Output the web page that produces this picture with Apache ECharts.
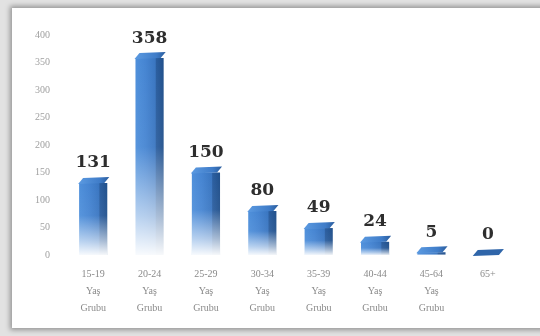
<!DOCTYPE html>
<html>
<head>
<meta charset="utf-8">
<script src="https://cdn.jsdelivr.net/npm/echarts@6/dist/echarts.min.js"></script>
<style>
  html, body { margin: 0; padding: 0; background: #e4e4e4; }
  #frame { position: absolute; left: 0; top: 0; width: 540px; height: 336px; background: #e2e2e2; overflow: hidden; }
  #panel { position: absolute; left: 12px; top: 8px; width: 540px; height: 320px; background: #ffffff;
           box-shadow: 0 0 5px 2px rgba(0,0,0,0.35); }
  #chart { position: absolute; left: 0; top: 0; width: 540px; height: 336px; }
</style>
</head>
<body>
<div id="frame"><div id="panel"></div></div>
<div id="chart"></div>
<script>
const ageGroups = ['15-19', '20-24', '25-29', '30-34', '35-39', '40-44', '45-64', '65+'];
const groupSuffix = ['Yaş\nGrubu', 'Yaş\nGrubu', 'Yaş\nGrubu', 'Yaş\nGrubu', 'Yaş\nGrubu', 'Yaş\nGrubu', 'Yaş\nGrubu', ''];
const counts = [131, 358, 150, 80, 49, 24, 5, 0];
const yTicks = { min: 0, max: 400, interval: 50 };

const categories = ageGroups.map((g, i) => groupSuffix[i] ? g + '\n' + groupSuffix[i] : g);

const chart = echarts.init(document.getElementById('chart'), null, { renderer: 'canvas' });

function renderBar(params, api) {
  const idx = api.value(0);
  const val = api.value(1);
  const top = api.coord([idx, val]);
  const base = api.coord([idx, 0]);
  const band = api.size([1, 0])[0];
  const w = band * 0.5;
  const L = top[0] - w / 2;
  const R = top[0] + w / 2;
  const Y = top[1];
  const h = base[1] - Y;
  const children = [];
  if (h > 0.5) {
    children.push({
      type: 'rect',
      shape: { x: L, y: Y, width: w, height: h },
      style: {
        fill: new echarts.graphic.LinearGradient(0, 0, 1, 0, [
          { offset: 0, color: '#4f90db' },
          { offset: 0.35, color: '#4685d2' },
          { offset: 0.7, color: '#3a76c1' },
          { offset: 0.74, color: '#2b5e9f' },
          { offset: 1, color: '#21508b' }
        ])
      }
    });
    children.push({
      type: 'rect',
      shape: { x: L - 0.5, y: Y, width: w + 1, height: h + 0.5 },
      style: {
        fill: new echarts.graphic.LinearGradient(0, 0, 0, 1, [
          { offset: 0, color: 'rgba(255,255,255,0)' },
          { offset: 0.45, color: 'rgba(255,255,255,0.05)' },
          { offset: 0.8, color: 'rgba(255,255,255,0.6)' },
          { offset: 1, color: 'rgba(255,255,255,0.97)' }
        ])
      }
    });
  }
  children.push({
    type: 'polygon',
    shape: { points: [[L - 1, Y + 1], [L + 4, Y - 5], [R + 2, Y - 6], [R - 3, Y]] },
    style: {
      fill: h > 0.5
        ? new echarts.graphic.LinearGradient(0, 0, 1, 0, [
            { offset: 0, color: '#5c9be2' },
            { offset: 0.7, color: '#3f7cc8' },
            { offset: 1, color: '#2a5c9c' }
          ])
        : '#2f65a9'
    }
  });
  children.push({
    type: 'text',
    style: {
      text: String(val),
      x: top[0],
      y: Y - 20,
      align: 'center',
      verticalAlign: 'middle',
      font: 'bold 17px "DejaVu Serif"',
      fill: '#2e2e2e'
    }
  });
  return { type: 'group', children: children };
}

chart.setOption({
  animation: false,
  grid: { left: 65, right: 24, top: 35, bottom: 81 },
  xAxis: {
    type: 'category',
    data: categories,
    axisLine: { show: false },
    axisTick: { show: false },
    axisLabel: {
      interval: 0,
      margin: 11,
      color: '#8a8a8a',
      fontFamily: 'Liberation Serif',
      fontSize: 10,
      lineHeight: 17
    }
  },
  yAxis: {
    type: 'value',
    min: yTicks.min,
    max: yTicks.max,
    interval: yTicks.interval,
    axisLine: { show: false },
    axisTick: { show: false },
    splitLine: { show: false },
    axisLabel: {
      margin: 15,
      color: '#a0a0a0',
      fontFamily: 'Liberation Serif',
      fontSize: 10
    }
  },
  series: [{
    type: 'custom',
    renderItem: renderBar,
    encode: { x: 0, y: 1 },
    data: counts.map((v, i) => [i, v]),
    clip: false
  }]
});
</script>
</body>
</html>
